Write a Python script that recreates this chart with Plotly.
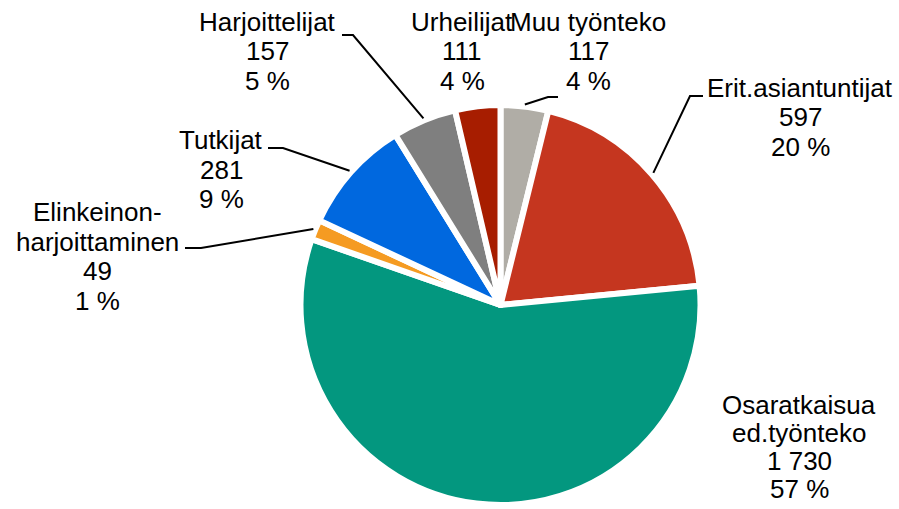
import math
import plotly.graph_objects as go

W, H = 899, 509

# ---- data ----
categories = ["Muu työnteko", "Erit.asiantuntijat", "Osaratkaisua ed.työnteko",
              "Elinkeinon-harjoittaminen", "Tutkijat", "Harjoittelijat", "Urheilijat"]
values = [117, 597, 1730, 49, 281, 157, 111]
value_text = ["117", "597", "1 730", "49", "281", "157", "111"]
pct_text = ["4 %", "20 %", "57 %", "1 %", "9 %", "5 %", "4 %"]
label_lines = [["Muu työnteko"], ["Erit.asiantuntijat"], ["Osaratkaisua", "ed.työnteko"],
               ["Elinkeinon-", "harjoittaminen"], ["Tutkijat"], ["Harjoittelijat"], ["Urheilijat"]]
colors = ["#B0ADA6", "#C5361F", "#03977F", "#F59B22", "#0068DF", "#7F7F7F", "#A71D00"]

# ---- layout (pixels) ----
CX, CY, R = 500.5, 305.0, 200.0  # pie centre & radius in px
# label block: (x centre, y of first line centre, line spacing)
label_pos = [(588, 22, 29.5), (800, 88, 29.5), (799, 405, 28), (97, 212, 29.5),
             (221, 140, 29.5), (267, 22, 29.5), (462, 22, 29.5)]
# leader line: label-side points (px); last point computed from slice angle
leaders = {
    0: [(558, 97), (548, 97)],
    1: [(703, 96), (690, 96)],
    3: [(185, 248), (201, 248)],
    4: [(268, 148), (283, 148)],
    5: [(342, 35), (353, 35)],
}

def px(x):
    return x / W

def py(y):
    return 1 - y / H

fig = go.Figure(go.Pie(
    labels=categories, values=values, sort=False, direction="clockwise", rotation=0,
    marker=dict(colors=colors, line=dict(color="white", width=6)),
    textinfo="none", hoverinfo="label+value+percent", showlegend=False,
    domain=dict(x=[px(CX - 260), px(CX + 260)], y=[py(CY + R), py(CY - R)]),
))

annotations = []
for i, lines in enumerate(label_lines):
    allines = lines + [value_text[i], pct_text[i]]
    x0, y0, lh = label_pos[i]
    for j, t in enumerate(allines):
        annotations.append(dict(
            text=t, x=px(x0), y=py(y0 + j * lh), xref="paper", yref="paper",
            xanchor="center", yanchor="middle", showarrow=False,
            font=dict(family="Liberation Sans, Arial", size=26, color="black")))

total = sum(values)
shapes = []
cum = 0
mids = []
for v in values:
    mids.append((cum + v / 2) / total * 2 * math.pi)
    cum += v
for i, pts in leaders.items():
    a = mids[i]
    tip = (CX + R * 1.01 * math.sin(a), CY - R * 1.01 * math.cos(a))
    allpts = pts + [tip]
    path = "M " + " L ".join(f"{px(x):.5f},{py(y):.5f}" for x, y in allpts)
    shapes.append(dict(type="path", path=path, xref="paper", yref="paper",
                       line=dict(color="black", width=2)))

fig.update_layout(
    width=W, height=H, margin=dict(l=0, r=0, t=0, b=0),
    paper_bgcolor="white", plot_bgcolor="white",
    annotations=annotations, shapes=shapes,
)

fig.write_html("out.html", config={"displayModeBar": False},
               post_script="document.body.style.margin='0';document.body.style.overflow='hidden';")
